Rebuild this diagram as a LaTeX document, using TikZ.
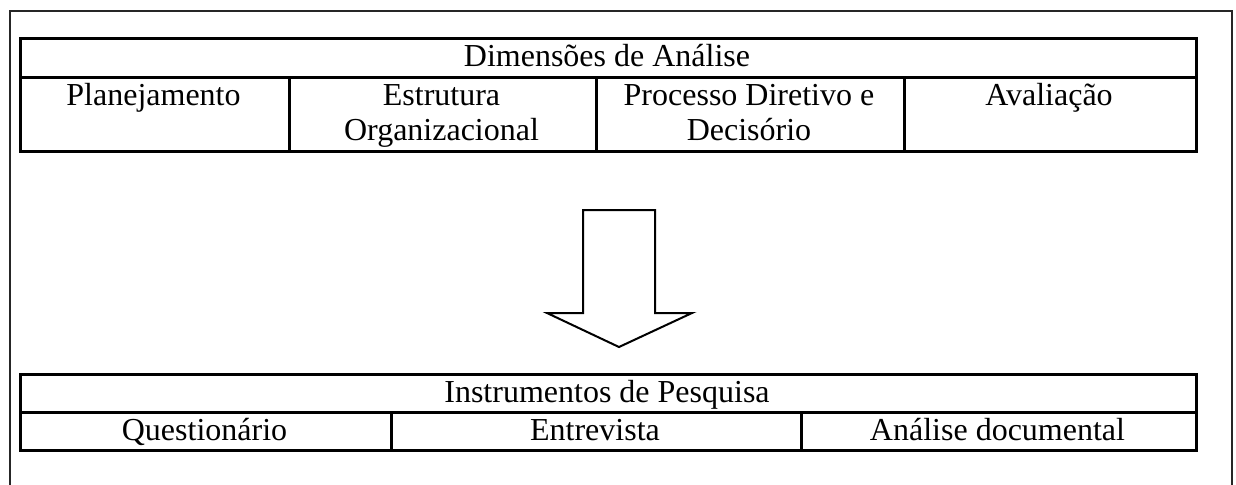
\documentclass[tikz,border=0pt]{standalone}
\usepackage{fontspec}
\setmainfont{Liberation Serif}
\begin{document}
\begin{tikzpicture}[x=0.5pt,y=-0.5pt,
  cell/.style={draw=black, line width=1.5pt, inner sep=0pt, anchor=north west},
  lbl/.style={anchor=base, inner sep=0pt, align=center, font=\fontsize{16}{17.5}\selectfont},
  frame/.style={draw=black!85, line width=1pt},
  blockarrow/.style={draw=black, line width=1pt, fill=white, line join=miter}]
\useasboundingbox (0,0) rectangle (1236,484);
% outer frame (open at bottom)
\draw[frame] (10,490) -- (10,11) -- (1232,11) -- (1232,490);
% upper table
\node[cell, minimum width=588pt, minimum height=19.5pt] (dimhead) at (19,37) {};
\node[cell, minimum width=134.5pt, minimum height=37pt] (plan) at (19,76) {};
\node[cell, minimum width=153.5pt, minimum height=37pt] (estr) at (288,76) {};
\node[cell, minimum width=154pt, minimum height=37pt] (proc) at (595,76) {};
\node[cell, minimum width=146pt, minimum height=37pt] (aval) at (903,76) {};
\node[lbl] (tdim) at (607,66) {Dimensões de Análise};
\node[lbl] (tplan) at (153.5,105) {Planejamento};
\node[lbl] (testr) at (441.5,140) {Estrutura\\Organizacional};
\node[lbl] (tproc) at (749,140) {Processo Diretivo e\\Decisório};
\node[lbl] (taval) at (1049,105) {Avaliação};
% arrow
\draw[blockarrow] (583,210) -- (655,210) -- (655,313) -- (692,313) -- (619,347) -- (547,313) -- (583,313) -- cycle;
% lower table
\node[cell, minimum width=588pt, minimum height=19pt] (insthead) at (19,373) {};
\node[cell, minimum width=185.5pt, minimum height=19pt] (quest) at (19,411) {};
\node[cell, minimum width=205pt, minimum height=19pt] (entr) at (390,411) {};
\node[cell, minimum width=197.5pt, minimum height=19pt] (anal) at (800,411) {};
\node[lbl] (tinst) at (607,402) {Instrumentos de Pesquisa};
\node[lbl] (tquest) at (204.5,440) {Questionário};
\node[lbl] (tentr) at (595,440) {Entrevista};
\node[lbl] (tanal) at (997.5,440) {Análise documental};
\end{tikzpicture}
\end{document}
